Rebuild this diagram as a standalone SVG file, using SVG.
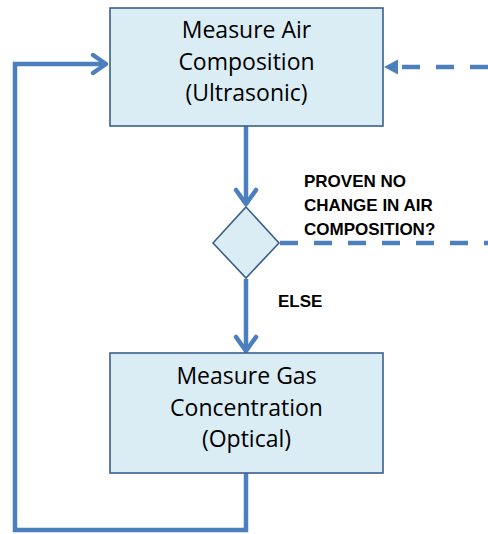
<svg xmlns="http://www.w3.org/2000/svg" width="488" height="534" viewBox="0 0 488 534">
  <style>
    .box { fill: #dbedf4; stroke: #3b5f8c; stroke-width: 1.6; }
    .label { font-family: "Open Sans", "Liberation Sans", sans-serif; font-size: 23px; fill: #000; text-anchor: middle; }
    .note { font-family: "Liberation Sans", Arial, sans-serif; font-size: 17px; font-weight: bold; fill: #000; }
    .flow { fill: none; stroke: #4b7fbe; stroke-width: 4.5; stroke-linejoin: miter; }
    .dash { fill: none; stroke: #4b7fbe; stroke-width: 4.5; stroke-dasharray: 18 16; }
    .head { fill: none; stroke: #4b7fbe; stroke-width: 4.5; stroke-linecap: round; stroke-linejoin: round; }
  </style>

  <!-- connectors -->
  <g id="connectors">
    <!-- box 1 to decision -->
    <path class="flow" d="M246 126 V204"/>
    <path class="head" d="M236 190 L246 204 L256 190"/>
    <!-- decision to box 2 (ELSE) -->
    <path class="flow" d="M246 279 V351"/>
    <path class="head" d="M236 337 L246 351 L256 337"/>
    <!-- loop back from box 2 to box 1 -->
    <path class="flow" d="M246 473 V530 H15 V64 H106"/>
    <path class="head" d="M93 55 L106 64 L93 73"/>
    <!-- dashed exit from decision -->
    <path class="dash" d="M280 243 H488"/>
    <!-- dashed entry into box 1 -->
    <path class="dash" d="M488 67 H396"/>
    <polygon points="384,67 398,59.5 398,74.5" fill="#4b7fbe"/>
  </g>

  <g id="measure-air">
    <rect class="box" x="110" y="8" width="273" height="118"/>
    <text class="label" x="246.5" y="38">Measure Air</text>
    <text class="label" x="246.5" y="70">Composition</text>
    <text class="label" x="246.5" y="101">(Ultrasonic)</text>
  </g>

  <g id="decision">
    <polygon class="box" points="246,207 279,243 246,278 213,243"/>
    <text class="note" x="304" y="187">PROVEN NO</text>
    <text class="note" x="304" y="211">CHANGE IN AIR</text>
    <text class="note" x="304" y="235">COMPOSITION?</text>
    <text class="note" x="278" y="307">ELSE</text>
  </g>

  <g id="measure-gas">
    <rect class="box" x="110" y="353" width="273" height="120"/>
    <text class="label" x="246.5" y="384">Measure Gas</text>
    <text class="label" x="246.5" y="416">Concentration</text>
    <text class="label" x="246.5" y="447">(Optical)</text>
  </g>
</svg>
